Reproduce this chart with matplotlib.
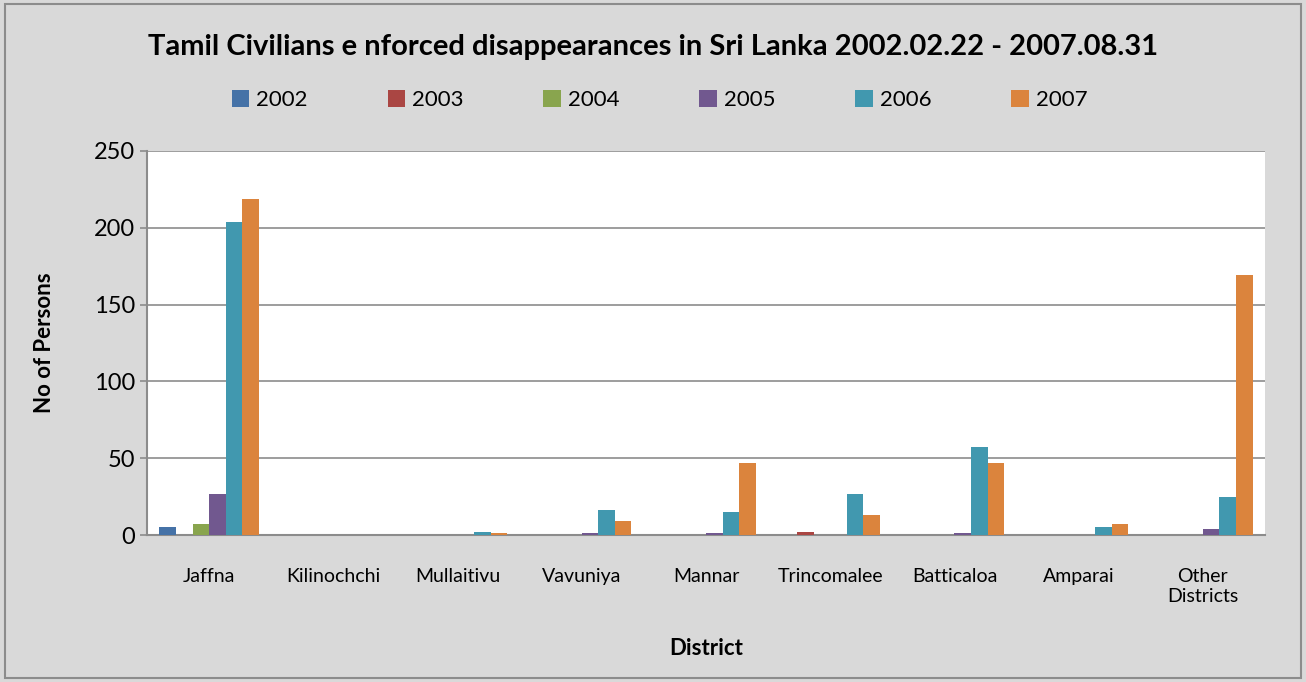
import numpy as np
import matplotlib
matplotlib.use('Agg')
import matplotlib.pyplot as plt
from matplotlib.patches import Rectangle

districts = ['Jaffna', 'Kilinochchi', 'Mullaitivu', 'Vavuniya', 'Mannar',
             'Trincomalee', 'Batticaloa', 'Amparai', 'Other\nDistricts']
years = ['2002', '2003', '2004', '2005', '2006', '2007']
v2002 = [5, 0, 0, 0, 0, 0, 0, 0, 0]
v2003 = [0, 0, 0, 0, 0, 2, 0, 0, 0]
v2004 = [7, 0, 0, 0, 0, 0, 0, 0, 0]
v2005 = [27, 0, 0, 1, 1, 0, 1, 0, 4]
v2006 = [204, 0, 2, 16, 15, 27, 57, 5, 25]
v2007 = [219, 0, 1, 9, 47, 13, 47, 7, 169]
series = [v2002, v2003, v2004, v2005, v2006, v2007]
colors = ['#4572A7', '#AA4643', '#89A54E', '#71588F', '#4198AF', '#DB843D']

plt.rcParams['font.family'] = ['Lato', 'DejaVu Sans']

fig = plt.figure(figsize=(13.06, 6.82), dpi=100)
fig.patch.set_facecolor('#d9d9d9')
fig.patches.append(Rectangle((0.004, 0.006), 0.992, 0.988, transform=fig.transFigure,
                             fill=False, edgecolor='#8c8c8c', linewidth=1.5))

ax = fig.add_axes([147 / 1306, 1 - 535 / 682, 1118 / 1306, 384 / 682])
ax.set_facecolor('white')

x = np.arange(len(districts))
w = 1 / 7.5
for i, (vals, c, yr) in enumerate(zip(series, colors, years)):
    ax.bar(x + (i - 2.5) * w, vals, width=w, color=c, label=yr,
           edgecolor='none', zorder=3)

ax.set_xlim(-0.5, len(districts) - 0.5)
ax.set_ylim(0, 250)
ax.set_yticks(range(0, 251, 50))
ax.yaxis.grid(True, color='#8c8c8c', linewidth=1.2, zorder=0)
ax.set_xticks(x)
ax.set_xticklabels(districts, fontsize=14)
ax.tick_params(axis='x', length=0, pad=24)
ax.tick_params(axis='y', labelsize=17, length=5, color='#8c8c8c', width=1.2)
for s in ['top', 'right']:
    ax.spines[s].set_visible(False)
for s in ['left', 'bottom']:
    ax.spines[s].set_color('#8c8c8c')
    ax.spines[s].set_linewidth(1.5)

ax.set_xlabel('District', fontsize=16, fontweight='bold', labelpad=24)
ax.set_ylabel('No of Persons', fontsize=16, fontweight='bold', labelpad=28)

fig.text(0.5, 1 - 47 / 682, 'Tamil Civilians e nforced disappearances in Sri Lanka 2002.02.22 - 2007.08.31',
         ha='center', va='center', fontsize=21, fontweight='bold')
fig.legend(loc='center', bbox_to_anchor=(0.505, 1 - 100 / 682), ncol=6, frameon=False,
           fontsize=16, handlelength=0.8, handleheight=0.8, handletextpad=0.3, columnspacing=3.6)

fig.savefig('out.png', dpi=100, facecolor=fig.get_facecolor())
